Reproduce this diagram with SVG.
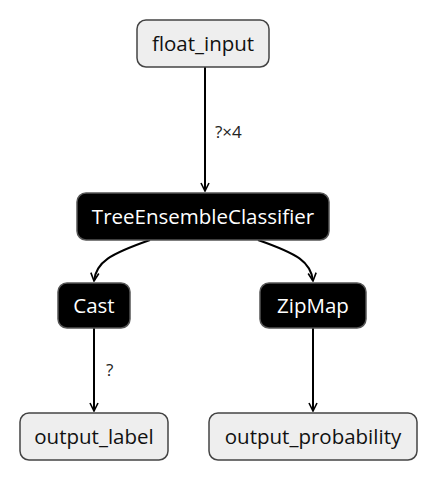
<svg xmlns="http://www.w3.org/2000/svg" width="438" height="480" viewBox="0 0 438 480">
<style>
.io rect{fill:#eeeeee;stroke:#444;stroke-width:1.5}
.op rect{fill:#000;stroke:#555;stroke-width:1.5}
text{font-family:"Open Sans","Noto Sans","DejaVu Sans",sans-serif;font-size:20.5px;text-anchor:middle;dominant-baseline:central}
.io text{fill:#111}
.op text{fill:#fff}
.lbl{font-size:17px;text-anchor:start;fill:#222}
.edge{fill:none;stroke:#000;stroke-width:2}
</style>
<defs>
<marker id="arr" viewBox="0 0 10 10" refX="9" refY="5" markerWidth="5" markerHeight="5" orient="auto" markerUnits="strokeWidth">
<path d="M1,1 L9,5 L1,9" fill="none" stroke="#000" stroke-width="1.6"/>
</marker>
</defs>
<g id="connectors">
<path class="edge" d="M205,67 L205,191" marker-end="url(#arr)"/>
<text class="lbl" x="215" y="131">?×4</text>
<path class="edge" d="M150,240 C110,254 96,262 94,281" marker-end="url(#arr)"/>
<path class="edge" d="M258,240 C298,254 311,262 313,281" marker-end="url(#arr)"/>
<path class="edge" d="M94,327 L94,411" marker-end="url(#arr)"/>
<text class="lbl" x="106" y="369">?</text>
<path class="edge" d="M313,327 L313,411" marker-end="url(#arr)"/>
</g>
<g id="float_input" class="io"><rect x="137" y="20" width="132" height="47" rx="9"/><text x="203" y="43">float_input</text></g>
<g id="TreeEnsembleClassifier" class="op"><rect x="77" y="193" width="252" height="47" rx="9"/><text x="203" y="216">TreeEnsembleClassifier</text></g>
<g id="Cast" class="op"><rect x="58" y="283" width="72" height="45" rx="9"/><text x="94" y="305">Cast</text></g>
<g id="ZipMap" class="op"><rect x="260" y="283" width="106" height="45" rx="9"/><text x="313" y="305">ZipMap</text></g>
<g id="output_label" class="io"><rect x="20" y="413" width="148" height="47" rx="9"/><text x="94" y="436">output_label</text></g>
<g id="output_probability" class="io"><rect x="209" y="413" width="208" height="47" rx="9"/><text x="313" y="436">output_probability</text></g>
</svg>
